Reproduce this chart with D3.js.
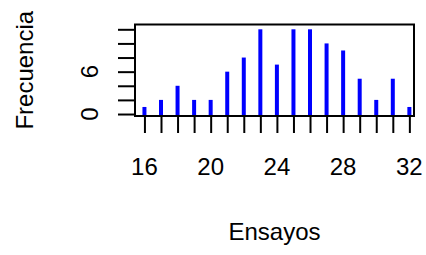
<!DOCTYPE html>
<html>
<head>
<meta charset="utf-8">
<script src="https://cdn.jsdelivr.net/npm/d3@7"></script>
<style>
  body { margin: 0; background: #fff; }
  text { font-family: "Liberation Sans", Arial, sans-serif; fill: #000; }
</style>
</head>
<body>
<svg id="chart" width="426" height="255"></svg>
<script>
// Ensayos (number of trials) and their frequencies
const ensayos = [16, 17, 18, 19, 20, 21, 22, 23, 24, 25, 26, 27, 28, 29, 30, 31, 32];
const frecuencia = [1, 2, 4, 2, 2, 6, 8, 12, 7, 12, 12, 10, 9, 5, 2, 5, 1];

const xTicks = [16, 17, 18, 19, 20, 21, 22, 23, 24, 25, 26, 27, 28, 29, 30, 31, 32];
const xTickLabels = [16, 20, 24, 28, 32];
const yTicks = [0, 2, 4, 6, 8, 10, 12];
const yTickLabels = [0, 6];

const box = { left: 135, right: 414, top: 24.5, bottom: 116 };

const svg = d3.select("#chart");

const x = d3.scaleLinear()
    .domain([15.43, 32.28])
    .range([box.left, box.right]);

const y = d3.scaleLinear()
    .domain([-0.28, 12.68])
    .range([box.bottom, box.top]);

// spikes
svg.append("g")
    .selectAll("line")
    .data(ensayos)
    .enter().append("line")
    .attr("x1", d => x(d))
    .attr("x2", d => x(d))
    .attr("y1", box.bottom)
    .attr("y2", (d, i) => y(frecuencia[i]))
    .attr("stroke", "#0000ff")
    .attr("stroke-width", 4);

// axes: only the tick lines, labels are drawn by hand
const xAxis = svg.append("g")
    .attr("transform", "translate(0," + box.bottom + ")")
    .call(d3.axisBottom(x).tickValues(xTicks).tickSize(17).tickSizeOuter(0).tickFormat(""));

const yAxis = svg.append("g")
    .attr("transform", "translate(" + box.left + ",0)")
    .call(d3.axisLeft(y).tickValues(yTicks).tickSize(17).tickSizeOuter(0).tickFormat(""));

[xAxis, yAxis].forEach(a => {
    a.select(".domain").remove();
    a.selectAll(".tick line").attr("stroke", "#000").attr("stroke-width", 2);
});

svg.append("rect")
    .attr("x", box.left)
    .attr("y", box.top)
    .attr("width", box.right - box.left)
    .attr("height", box.bottom - box.top)
    .attr("fill", "none")
    .attr("stroke", "#000")
    .attr("stroke-width", 2);

svg.append("g")
    .selectAll("text")
    .data(xTickLabels)
    .enter().append("text")
    .attr("x", d => x(d))
    .attr("y", 174.5)
    .attr("text-anchor", "middle")
    .style("font-size", "24px")
    .text(d => d);

svg.append("g")
    .selectAll("text")
    .data(yTickLabels)
    .enter().append("text")
    .attr("transform", d => "translate(98," + y(d) + ") rotate(-90)")
    .attr("text-anchor", "middle")
    .style("font-size", "24px")
    .text(d => d);

svg.append("text")
    .attr("x", (box.left + box.right) / 2)
    .attr("y", 240)
    .attr("text-anchor", "middle")
    .style("font-size", "24px")
    .text("Ensayos");

svg.append("text")
    .attr("transform", "translate(33," + ((box.top + box.bottom) / 2) + ") rotate(-90)")
    .attr("text-anchor", "middle")
    .style("font-size", "24px")
    .text("Frecuencia");
</script>
</body>
</html>
